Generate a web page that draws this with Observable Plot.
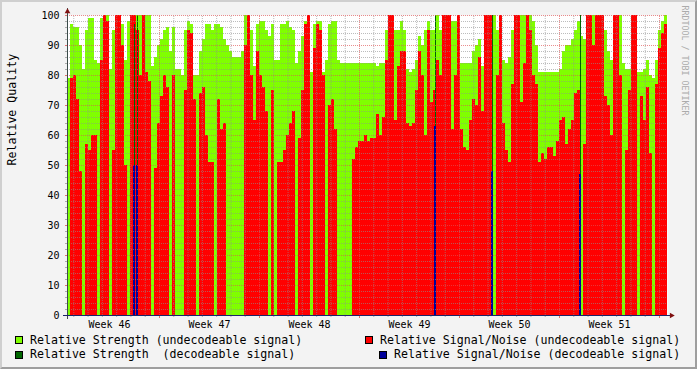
<!DOCTYPE html>
<html><head><meta charset="utf-8">
<script src="https://cdn.jsdelivr.net/npm/d3@7"></script>
<script src="https://cdn.jsdelivr.net/npm/@observablehq/plot@0.6"></script>
<style>
html,body{margin:0;padding:0;background:#F3F3F3;}
#wrap{position:relative;width:697px;height:369px;background:#F3F3F3;overflow:hidden;font-family:"DejaVu Sans Mono",monospace;}
#bevel{position:absolute;left:0;top:0;width:697px;height:369px;box-sizing:border-box;border-top:2px solid #CFCFCF;border-left:2px solid #CFCFCF;border-bottom:2px solid #9E9E9E;border-right:2px solid #9E9E9E;pointer-events:none;}
#chart{position:absolute;left:0;top:0;}
.lg{position:absolute;font-size:11.6px;line-height:14px;white-space:pre;color:#000;font-family:"DejaVu Sans Mono",monospace;}
.bx{position:absolute;width:6px;height:6px;border:1px solid #000;}
</style></head>
<body>
<div id="wrap">
  <div id="chart"></div>
  <div id="legend"></div>
  <div id="bevel"></div>
</div>
<script>
// ---- data ----
const weekLabels = ["Week 46", "Week 47", "Week 48", "Week 49", "Week 50", "Week 51"];
const startHour = 13.44;   // hours after Monday 00:00 of week 46
const stepHours = 5.04;    // hours per consolidated sample
const yTicks = [0, 10, 20, 30, 40, 50, 60, 70, 80, 90, 100];

// Relative Strength (undecodeable signal)
const strength = [
  79,97,96,96,90,82,95,99,99,85,
  84,99,100,100,82,95,100,100,97,85,
  98,100,100,100,100,100,100,100,83,86,
  90,92,95,96,88,96,82,82,80,95,
  98,97,80,80,88,92,97,97,95,97,
  97,96,92,90,88,86,86,86,88,100,
  100,95,83,97,98,98,95,93,97,85,
  85,97,97,98,96,95,84,88,93,98,
  100,81,97,98,98,81,85,97,98,98,
  85,84,84,84,84,84,84,84,84,84,
  84,84,84,83,84,84,95,100,100,95,
  95,98,95,82,81,82,85,93,90,95,
  98,95,95,100,95,100,100,100,98,98,
  100,84,84,84,84,88,90,92,83,100,
  100,100,100,95,100,85,84,86,95,100,
  100,100,100,100,100,98,90,81,81,81,
  81,81,81,81,82,88,90,90,92,95,
  98,93,92,100,100,100,100,100,100,95,
  88,85,100,100,100,84,82,82,100,100,
  81,81,82,85,80,79,85,95,98,100
];
// Relative Signal/Noise (undecodeable signal)
const snr = [
  0,79,80,72,48,0,57,55,60,60,
  0,85,100,98,0,55,100,100,90,50,
  0,100,100,95,80,100,81,78,0,49,
  64,73,80,76,0,80,0,0,0,75,
  95,94,72,0,74,76,60,51,51,0,
  72,62,64,0,0,0,0,0,0,90,
  100,80,65,88,80,76,68,0,75,0,
  51,51,55,60,64,68,0,59,75,97,
  100,0,89,97,95,80,0,70,72,62,
  0,0,0,0,0,52,56,58,58,60,
  58,59,59,67,60,66,85,100,100,65,
  83,88,88,64,63,64,75,88,80,60,
  95,71,75,85,80,100,100,100,62,80,
  100,62,56,55,65,72,70,86,68,100,
  100,100,0,80,100,64,55,51,77,100,
  100,71,84,100,95,80,77,51,54,52,
  56,56,53,58,65,66,57,62,65,74,
  75,0,57,100,100,90,100,100,100,73,
  70,60,100,100,80,0,55,75,100,100,
  0,73,65,76,54,0,77,89,94,97
];
// decodeable signal events
const decHour = [124.3, 129.0, 630.0, 725.8, 873.6];
const decStrength = [97, 100, 100, 100, 100];
const decSnr = [50, 50, 63, 48, 47];

// ---- build ----
const pxH = 1.68; // hours per pixel column
const endHour = startHour + strength.length * stepHours;
const rows = strength.map((s, i) => ({
  t0: startHour + i * stepHours, t1: startHour + (i + 1) * stepHours, s, r: snr[i]
}));
const dec = decHour.map((t, i) => ({t, s: decStrength[i], r: decSnr[i]}));
const weekStarts = [168, 336, 504, 672, 840, 1008];
const weekMids = weekLabels.map((_, i) => 84 + 168 * i);
const days = d3.range(24, endHour, 24).filter(h => h % 168 !== 0);
const minorY = d3.range(0, 101, 2).filter(v => v % 10 !== 0);
const FONT = "DejaVu Sans Mono";
const crisp = {shapeRendering: "crispEdges"};

const chart = Plot.plot({
  width: 697, height: 335,
  marginLeft: 67, marginRight: 30, marginTop: 15, marginBottom: 20,
  style: {background: "transparent", fontFamily: FONT, fontSize: "10px", color: "#000"},
  x: {domain: [startHour, endHour], axis: null},
  y: {domain: [0, 100], axis: null},
  marks: [
    Plot.frame({fill: "#FFFFFF", stroke: "none"}),
    Plot.rect(rows, {x1: "t0", x2: "t1", y1: 0, y2: "s", fill: "#80FF00", ...crisp}),
    Plot.rect(rows, {x1: "t0", x2: "t1", y1: 0, y2: "r", fill: "#FF0000", ...crisp}),
    Plot.rect(dec, {x1: d => d.t + pxH, x2: d => d.t + 2 * pxH, y1: 0, y2: "s", fill: "#006600", ...crisp}),
    Plot.rect(dec, {x1: "t", x2: d => d.t + 2 * pxH, y1: 0, y2: "r", fill: "#000099", ...crisp}),
    // grid
    Plot.ruleY(minorY, {stroke: "#8F8F8F", strokeOpacity: 0.6, strokeDasharray: "1,1"}),
    Plot.ruleX(days, {y1: 0, y2: 100, stroke: "#8F8F8F", strokeOpacity: 0.6, strokeDasharray: "1,1"}),
    Plot.ruleY(yTicks.filter(v => v > 0), {stroke: "#DE5050", strokeOpacity: 0.65, strokeDasharray: "1,1"}),
    Plot.ruleX(weekStarts, {y1: 0, y2: 100, stroke: "#DE5050", strokeOpacity: 0.65, strokeDasharray: "1,1"}),
    // small ticks
    Plot.ruleY(minorY, {x1: startHour - 2 * pxH, x2: startHour, stroke: "#8F8F8F", strokeOpacity: 0.7}),
    Plot.ruleY(yTicks, {x1: startHour - 2 * pxH, x2: startHour, stroke: "#DE5050", strokeOpacity: 0.8}),
    Plot.ruleX(days, {y1: 0, y2: -2 / 3, stroke: "#8F8F8F", strokeOpacity: 0.7}),
    Plot.ruleX(weekStarts, {y1: 0, y2: -1, stroke: "#DE5050", strokeOpacity: 0.8}),
    // axis lines
    Plot.ruleX([startHour], {y1: -4 / 3, y2: 102.3, stroke: "#3A4A48"}),
    Plot.ruleY([0], {x1: startHour - 4 * pxH, x2: endHour + 4 * pxH, stroke: "#1C2468"}),
    Plot.dot([0], {x: startHour, y: 100, dy: -4, symbol: "triangle", r: 2.1, fill: "#7F1010", stroke: "none"}),
    Plot.dot([0], {x: endHour, y: 0, dx: 4, symbol: "triangle", rotate: 90, r: 2.1, fill: "#7F1010", stroke: "none"}),
    // axes labels
    Plot.axisY(yTicks, {anchor: "left", tickSize: 0, tickPadding: 8, fontSize: 10, label: null}),
    Plot.axisX(weekMids, {anchor: "bottom", tickSize: 0, tickPadding: 5, fontSize: 10, label: null,
      tickFormat: d => weekLabels[weekMids.indexOf(d)]}),
    Plot.text(["Relative Quality"], {frameAnchor: "left", dx: -55, rotate: -90, fontSize: 11.6, fill: "#000"}),
    Plot.text(["RRDTOOL / TOBI OETIKER"], {frameAnchor: "top-right", dx: 20, dy: -10, rotate: 90,
      textAnchor: "start", fontSize: 8.3, fill: "#ABABAB"})
  ]
});
document.getElementById("chart").appendChild(chart);

// legend
const legendItems = [
  {label: "Relative Strength (undecodeable signal)", color: "#80FF00", box: [15, 336], text: [30, 333]},
  {label: "Relative Strength  (decodeable signal)", color: "#006600", box: [15, 351], text: [30, 347.3]},
  {label: "Relative Signal/Noise (undecodeable signal)", color: "#FF0000", box: [365, 336], text: [380, 333]},
  {label: "Relative Signal/Noise (decodeable signal)", color: "#000099", box: [379, 351], text: [394, 347.3]}
];
const lg = document.getElementById("legend");
for (const it of legendItems) {
  const b = document.createElement("div");
  b.className = "bx";
  b.style.left = it.box[0] + "px"; b.style.top = it.box[1] + "px"; b.style.background = it.color;
  lg.appendChild(b);
  const t = document.createElement("div");
  t.className = "lg";
  t.style.left = it.text[0] + "px"; t.style.top = it.text[1] + "px";
  t.textContent = it.label;
  lg.appendChild(t);
}
</script>
</body></html>
